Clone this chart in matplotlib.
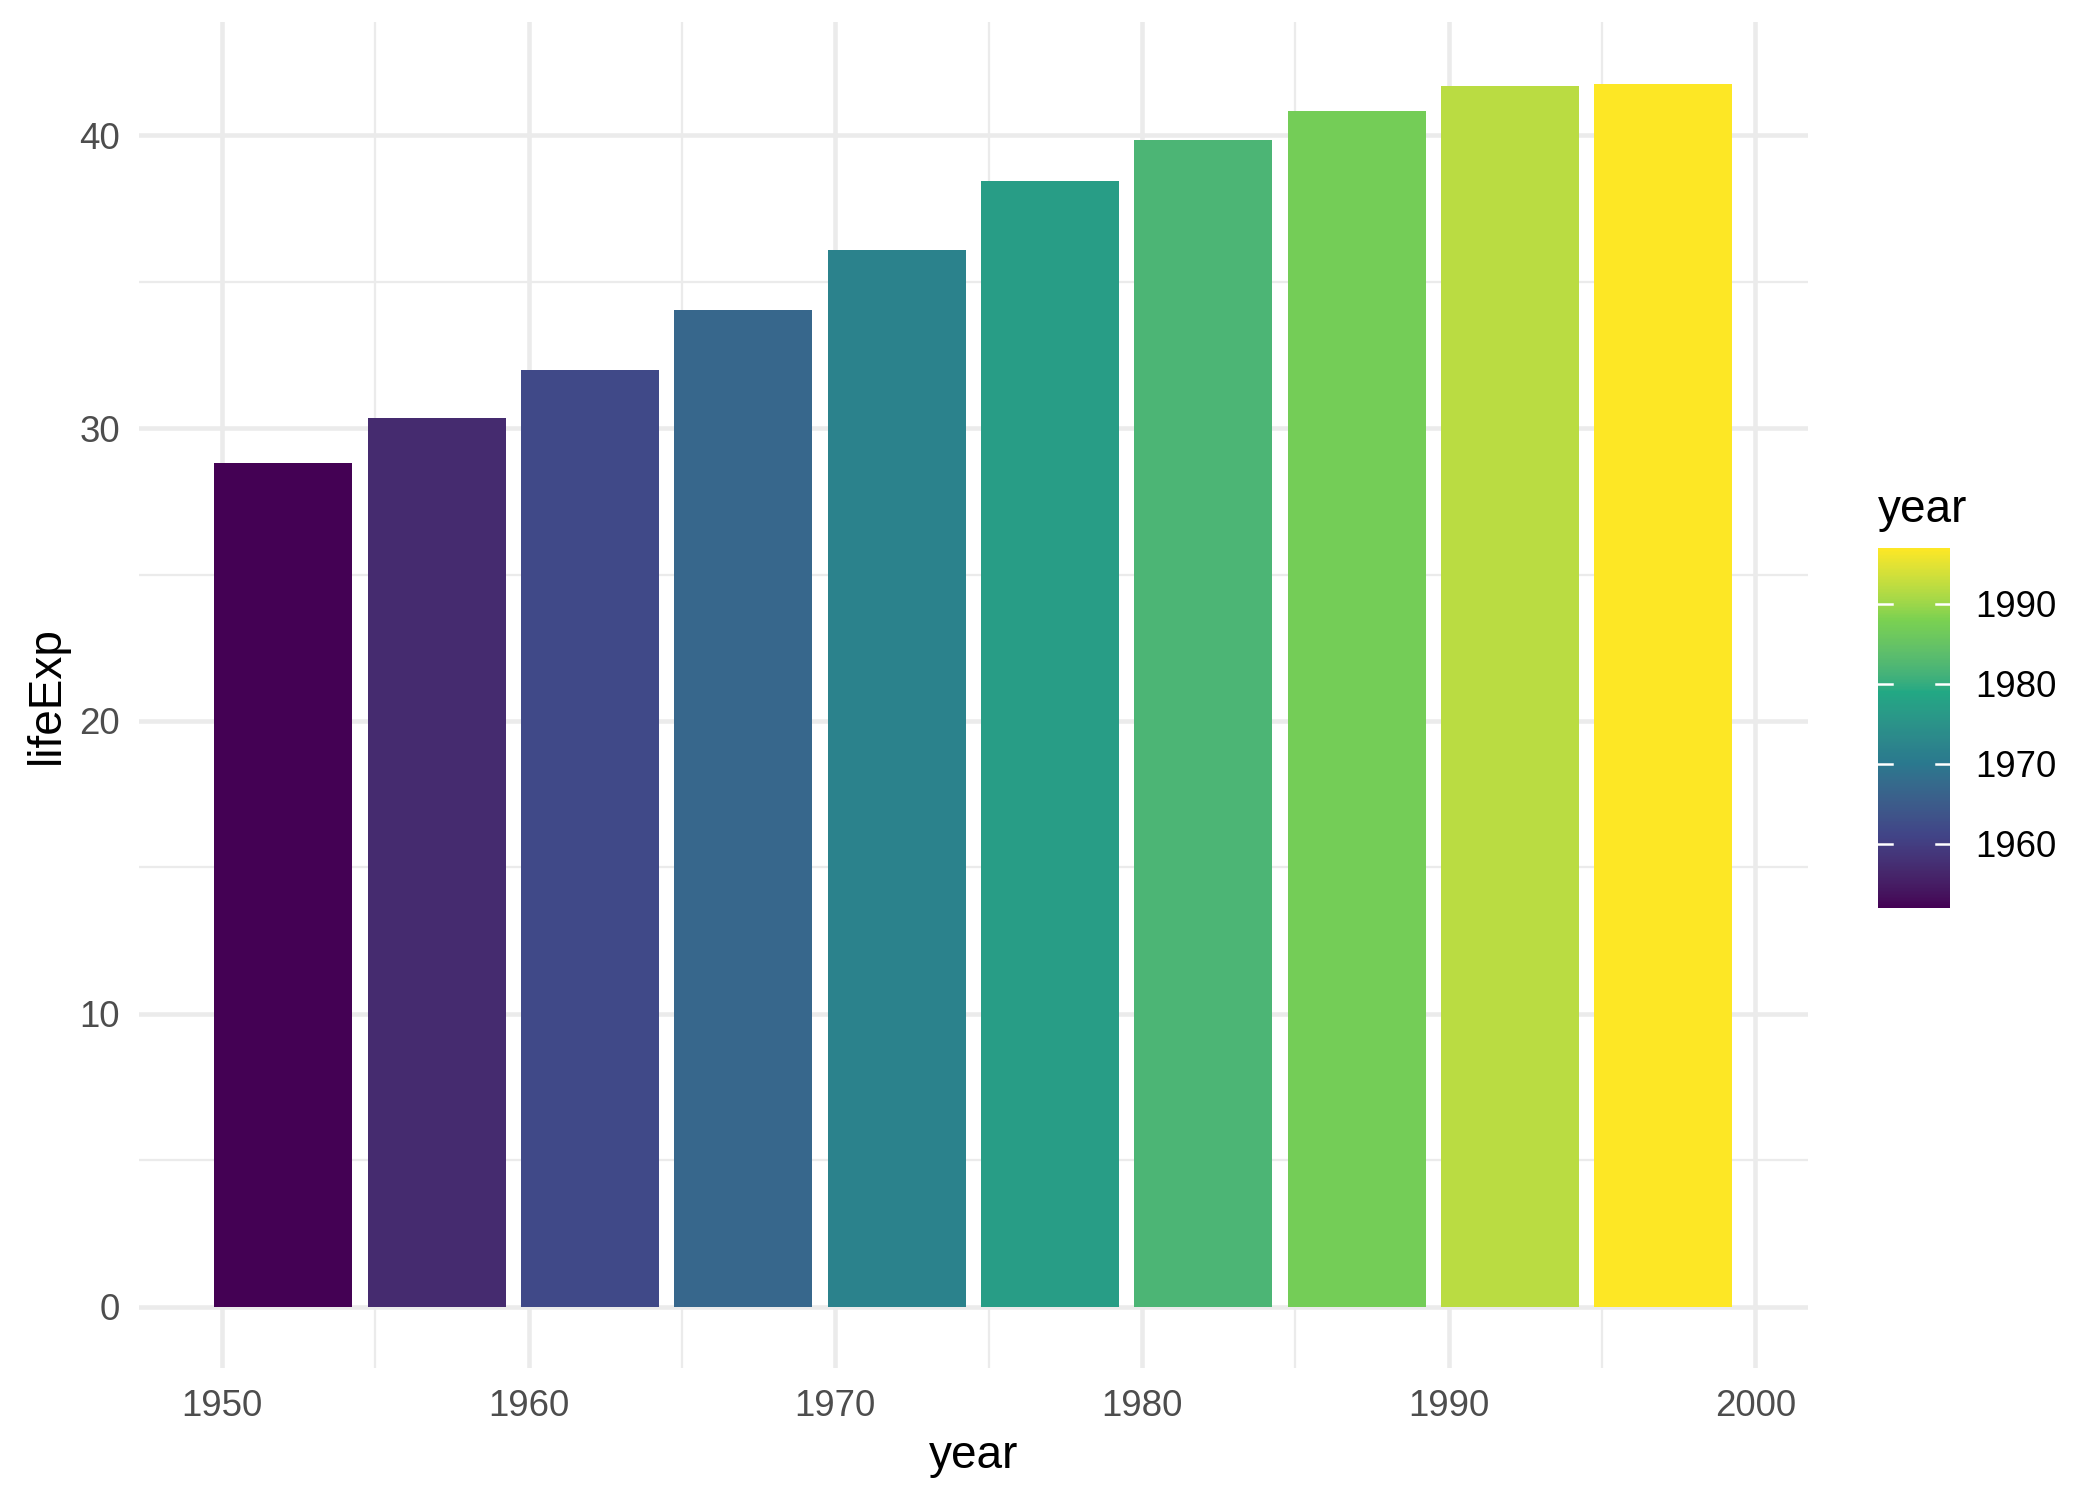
import numpy as np
import matplotlib
matplotlib.use("Agg")
import matplotlib.pyplot as plt
from matplotlib import colors as mcolors

plt.rcParams["font.family"] = ["Liberation Sans", "DejaVu Sans"]

# Afghanistan life expectancy (gapminder)
years = [1952, 1957, 1962, 1967, 1972, 1977, 1982, 1987, 1992, 1997]
life_exp = [28.801, 30.332, 31.997, 34.020, 36.088, 38.438, 39.854, 40.822, 41.674, 41.763]
cbar_ticks = [1960, 1970, 1980, 1990]

# the 6 viridis anchors ggplot's scale_fill_viridis_c interpolates between
anchors = ["#440154", "#414487", "#2A788E", "#22A884", "#7AD151", "#FDE725"]

grid_col = "#EBEBEB"


# sRGB <-> CIE Lab, so the gradient is built the way ggplot does it
def to_lab(rgb):
    rgb = np.asarray(rgb, float)
    lin = np.where(rgb > 0.04045, ((rgb + 0.055) / 1.055) ** 2.4, rgb / 12.92)
    m = np.array([[0.4124, 0.3576, 0.1805],
                  [0.2126, 0.7152, 0.0722],
                  [0.0193, 0.1192, 0.9505]])
    xyz = lin @ m.T / np.array([0.95047, 1.0, 1.08883])
    f = np.where(xyz > 0.008856, np.cbrt(xyz), 7.787 * xyz + 16 / 116)
    return np.stack([116 * f[..., 1] - 16,
                     500 * (f[..., 0] - f[..., 1]),
                     200 * (f[..., 1] - f[..., 2])], axis=-1)


def from_lab(lab):
    fy = (lab[..., 0] + 16) / 116
    fx = fy + lab[..., 1] / 500
    fz = fy - lab[..., 2] / 200
    f = np.stack([fx, fy, fz], axis=-1)
    xyz = np.where(f ** 3 > 0.008856, f ** 3, (f - 16 / 116) / 7.787)
    xyz = xyz * np.array([0.95047, 1.0, 1.08883])
    m = np.array([[3.2406, -1.5372, -0.4986],
                  [-0.9689, 1.8758, 0.0415],
                  [0.0557, -0.2040, 1.0570]])
    lin = xyz @ m.T
    rgb = np.where(lin > 0.0031308, 1.055 * np.abs(lin) ** (1 / 2.4) - 0.055, 12.92 * lin)
    return np.clip(rgb, 0, 1)


anchor_lab = to_lab([mcolors.to_rgb(c) for c in anchors])
pos = np.linspace(0, 1, len(anchors))
t = np.linspace(0, 1, 256)
lab = np.stack([np.interp(t, pos, anchor_lab[:, k]) for k in range(3)], axis=-1)
cmap = mcolors.ListedColormap(from_lab(lab))

fig = plt.figure(figsize=(7, 5), dpi=300)
ax = fig.add_axes([0.066, 0.0882, 0.795, 0.8968])

norm = mcolors.Normalize(vmin=min(years), vmax=max(years))
ax.bar(years, life_exp, width=4.5, color=[cmap(norm(y)) for y in years], zorder=2)

# ggplot style expansion (5%)
xlo, xhi = min(years) - 2.25, max(years) + 2.25
xpad = (xhi - xlo) * 0.05
ax.set_xlim(xlo - xpad, xhi + xpad)
ypad = max(life_exp) * 0.05
ax.set_ylim(-ypad, max(life_exp) + ypad)

ax.set_xticks([1950, 1960, 1970, 1980, 1990, 2000])
ax.set_xticks([1955, 1965, 1975, 1985, 1995], minor=True)
ax.set_yticks([0, 10, 20, 30, 40])
ax.set_yticks([5, 15, 25, 35], minor=True)

ax.grid(which="major", color=grid_col, linewidth=1.1, zorder=0)
ax.grid(which="minor", color=grid_col, linewidth=0.55, zorder=0)
ax.set_axisbelow(True)
for s in ax.spines.values():
    s.set_visible(False)

ax.tick_params(which="both", length=0)
ax.tick_params(axis="x", pad=5, labelsize=8.8, labelcolor="#4D4D4D")
ax.tick_params(axis="y", pad=4.5, labelsize=8.8, labelcolor="#4D4D4D")

ax.set_xlabel("year", fontsize=11, labelpad=2.5)
ax.set_ylabel("lifeExp", fontsize=11, labelpad=2.5)

# colourbar legend
cax = fig.add_axes([0.8943, 0.3947, 0.0343, 0.24])
cb = matplotlib.colorbar.ColorbarBase(cax, cmap=cmap, norm=norm, ticks=cbar_ticks)
cb.outline.set_visible(False)
cax.tick_params(length=0, labelsize=8.8, pad=6)
for tk in cbar_ticks:
    cax.plot([0, 0.2], [tk, tk], color="white", linewidth=0.6, transform=cax.get_yaxis_transform())
    cax.plot([0.8, 1.0], [tk, tk], color="white", linewidth=0.6, transform=cax.get_yaxis_transform())
cax.text(0.0, 1.045, "year", transform=cax.transAxes, fontsize=11, ha="left", va="bottom")

fig.savefig("out.png", dpi=300)
